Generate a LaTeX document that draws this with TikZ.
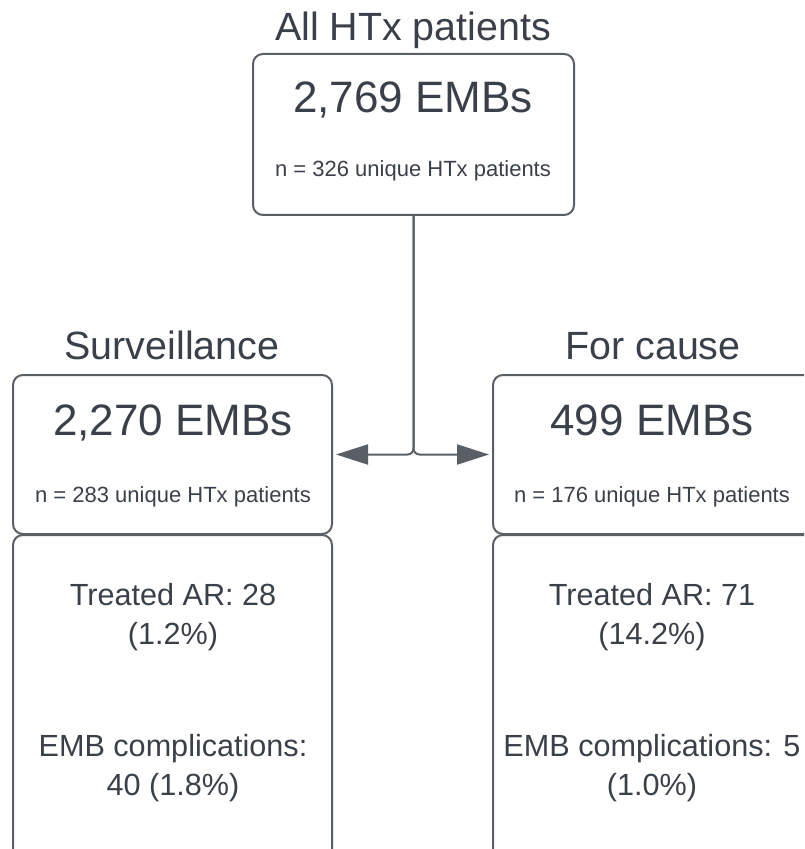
\documentclass[tikz,border=0pt]{standalone}
\usepackage{fontspec}
\setmainfont{Liberation Sans}
\usetikzlibrary{arrows.meta}
\definecolor{txtgray}{HTML}{3A4049}
\definecolor{linegray}{HTML}{5A5F66}
\tikzset{
  box/.style={draw=linegray,line width=1pt,rounded corners=5pt,inner sep=0pt},
  title/.style={text=txtgray,font=\fontsize{19.7}{22}\selectfont,anchor=base},
  count/.style={text=txtgray,font=\fontsize{22}{26}\selectfont,anchor=base},
  note/.style={text=txtgray,font=\fontsize{11}{13}\selectfont,anchor=base},
  result/.style={text=txtgray,font=\fontsize{15.3}{19.5}\selectfont,align=center},
  branch/.style={draw=linegray,line width=1pt,rounded corners=3pt,-{Triangle[length=16pt,width=10pt]},shorten >=1.5pt}
}
\begin{document}
\begin{tikzpicture}[x=0.5pt,y=-0.5pt]
				\clip (0,0) rectangle (804,849);
				\useasboundingbox (0,0) rectangle (804,849);
				% top box
				\node[title] (alltitle) at (413,41) {All HTx patients};
				\node[box,minimum width=160.5pt,minimum height=80.5pt] (allbox) at (413.5,134.5) {};
				\node[count] (allemb) at (413,113) {2,769 EMBs};
				\node[note] (alln) at (413,177) {n = 326 unique HTx patients};
				% surveillance
				\node[title] (survtitle) at (172,359) {Surveillance};
				\node[box,minimum width=159.5pt,minimum height=79.5pt] (survbox) at (172.5,454.5) {};
				\node[count] (survemb) at (173,435) {2,270 EMBs};
				\node[note] (survn) at (173,502) {n = 283 unique HTx patients};
				\node[box,minimum width=159.5pt,minimum height=182.5pt] (survres) at (172.5,717.5) {};
				\node[result] (survar) at (173,617) {Treated AR: 28\\(1.2\%)};
				\node[result] (survcomp) at (173,768) {EMB complications:\\40 (1.8\%)};
				% for cause
				\node[title] (causetitle) at (653,359) {For cause};
				\node[box,minimum width=160pt,minimum height=79.5pt] (causebox) at (653,454.5) {};
				\node[count] (causeemb) at (652,435) {499 EMBs};
				\node[note] (causen) at (652,502) {n = 176 unique HTx patients};
				\node[box,minimum width=160pt,minimum height=182.5pt] (causeres) at (653,717.5) {};
				\node[result] (causear) at (652,617) {Treated AR: 71\\(14.2\%)};
				\node[result] (causecomp) at (652,768) {EMB complications: 5\\(1.0\%)};
				% split
				\draw[branch] (allbox.south) |- (survbox.east);
				\draw[branch] (allbox.south) |- (causebox.west);
\end{tikzpicture}
\end{document}
